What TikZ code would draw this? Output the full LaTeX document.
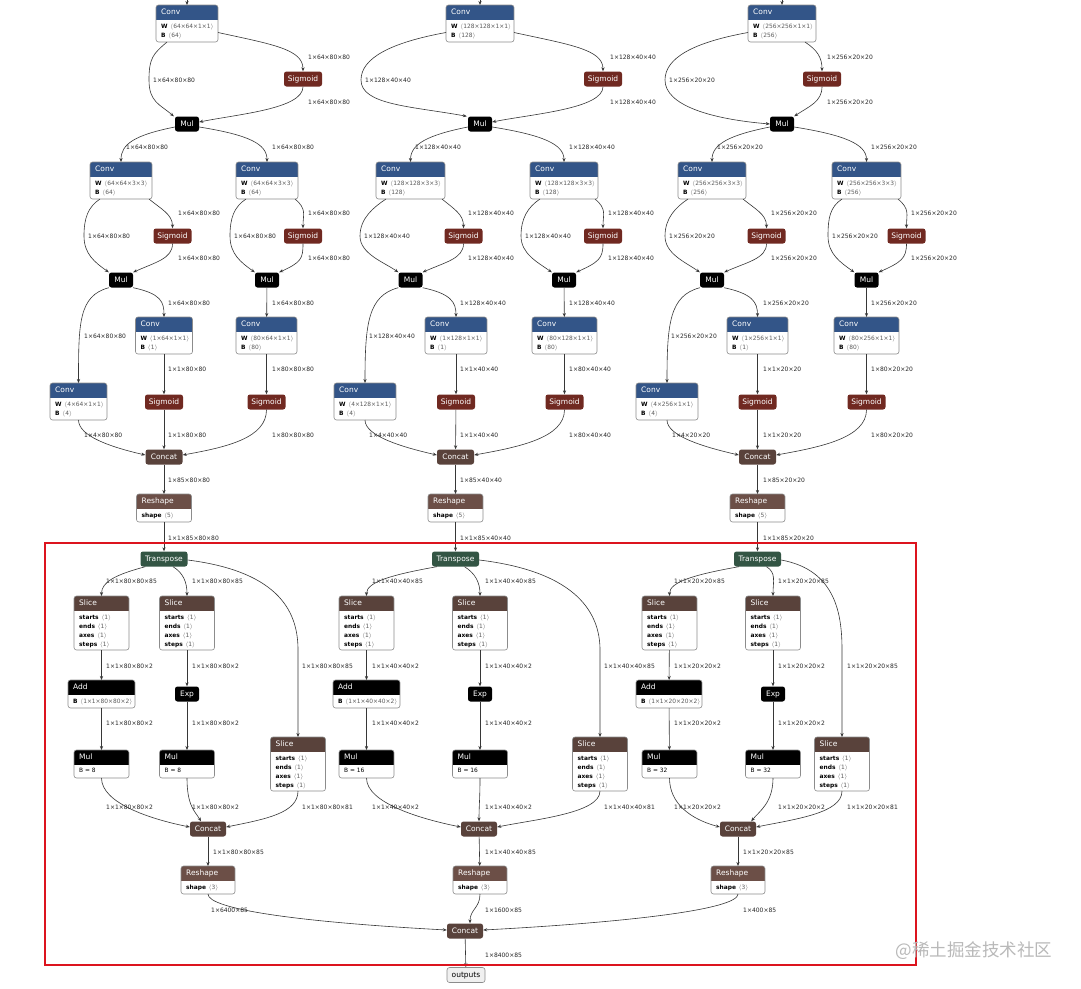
\documentclass[tikz,border=0pt]{standalone}
\usepackage{fontspec}
\usetikzlibrary{arrows.meta}
\newfontfamily\nf{DejaVu Sans}
\newfontfamily\cjkf{Noto Sans CJK SC}
\definecolor{layerc}{RGB}{51,85,136}
\definecolor{actc}{RGB}{112,41,33}
\definecolor{tensorc}{RGB}{89,66,59}
\definecolor{shapec}{RGB}{108,79,71}
\definecolor{transc}{RGB}{51,85,68}
\definecolor{edgec}{RGB}{55,55,55}
\definecolor{borderc}{RGB}{140,140,140}
\definecolor{valc}{RGB}{90,90,90}
\definecolor{redbox}{RGB}{220,20,30}
\newcommand\hdrfont{\nf\fontsize{7.5}{9}\selectfont}
\newcommand\labfont{\nf\fontsize{6}{7}\selectfont}
\newcommand\bodyfont{\nf\fontsize{5.9}{9}\selectfont}
\newcommand\kv[2]{\textbf{#1}\hspace{2.5pt}{\color{valc}$\langle$#2$\rangle$}}
\newcommand\slicebody{\kv{starts}{1}\\\kv{ends}{1}\\\kv{axes}{1}\\\kv{steps}{1}}
\tikzset{
  hdr/.style={font=\hdrfont, text=white, inner sep=0pt, anchor=west, text height=5.5pt, text depth=1.5pt},
  bodyt/.style={font=\bodyfont, inner sep=0pt, anchor=north west, align=left},
  simple/.style={rounded corners=2.5pt, minimum height=15pt, inner sep=0pt, font=\hdrfont, text=white, text height=5.5pt, text depth=1.5pt},
  sigm/.style={simple, fill=actc, minimum width=38pt},
  blk/.style={simple, fill=black, minimum width=24pt},
  catn/.style={simple, fill=tensorc, minimum width=37pt},
  trn/.style={simple, fill=transc, minimum width=47pt},
  outn/.style={simple, fill=gray!12, draw=borderc, text=black, minimum width=38pt, line width=0.6pt},
  lab/.style={font=\labfont, inner sep=0pt, anchor=west, text=black!85},
  edge/.style={draw=edgec, line width=0.6pt, -{Stealth[length=4pt,width=3.2pt]}},
}
\newcommand\boxnode[8]{%
  \node[inner sep=0pt, outer sep=0pt, minimum width=#4pt, minimum height=#5pt, anchor=north] (#1) at (#2,#3) {};
  \begin{scope}
    \clip[rounded corners=2.5pt] (#1.north west) rectangle (#1.south east);
    \fill[white] (#1.north west) rectangle (#1.south east);
    \fill[#6] (#1.north west) rectangle ([yshift=-15pt]#1.north east);
  \end{scope}
  \draw[draw=borderc, line width=0.6pt, rounded corners=2.5pt] (#1.north west) rectangle (#1.south east);
  \node[hdr] (#1-t) at ([xshift=5pt,yshift=-7.8pt]#1.north west) {#7};
  \node[bodyt] (#1-b) at ([xshift=5pt,yshift=-18.3pt]#1.north west) {#8};
}
\newcounter{labn}
\newcommand\elab[3]{\stepcounter{labn}\node[lab] (L\arabic{labn}) at (#1,#2) {#3};}
\newcommand\stdedges[1]{%
  \draw[edge] (#1-in) -- (#1-conv1);
  \draw[edge] ([yshift=-3pt]#1-mul1.west) .. controls +(-40,8) and +(0,-18) .. (#1-conv2a.north);
  \draw[edge] ([yshift=-3pt]#1-mul1.east) .. controls +(50,8) and +(0,-18) .. (#1-conv2b.north);
  \draw[edge] ([xshift=-3pt]#1-conv2a.south east) .. controls +(12,10) and +(0,-14) .. (#1-sig2a.north);
  \draw[edge] ([xshift=10pt]#1-conv2a.south west) .. controls +(-12,8) and +(0,-18) .. (#1-b2a) .. controls +(0,18) and +(-14,-10) .. (#1-mul2a.north west);
  \draw[edge] (#1-sig2a.south) .. controls +(0,15) and +(22,-10) .. (#1-mul2a.north east);
  \draw[edge] ([xshift=-3pt]#1-conv2b.south east) .. controls +(12,10) and +(0,-14) .. (#1-sig2b.north);
  \draw[edge] ([xshift=10pt]#1-conv2b.south west) .. controls +(-12,8) and +(0,-18) .. (#1-b2b) .. controls +(0,18) and +(-14,-10) .. (#1-mul2b.north west);
  \draw[edge] (#1-sig2b.south) .. controls +(0,15) and +(22,-10) .. (#1-mul2b.north east);
  \draw[edge] (#1-mul2a.south west) .. controls +(-30,8) and +(0,-60) .. (#1-conv4.north);
  \draw[edge] (#1-mul2a.south east) .. controls +(28,6) and +(0,-15) .. (#1-conv3a.north);
  \draw[edge] (#1-mul2b) -- (#1-conv3b);
  \draw[edge] (#1-conv3a) -- (#1-sig3a);
  \draw[edge] (#1-conv3b) -- (#1-sig3b);
  \draw[edge] (#1-conv4.south) .. controls +(0,16) and +(-35,-8) .. ([yshift=2pt]#1-cat1.west);
  \draw[edge] (#1-sig3a) -- (#1-cat1);
  \draw[edge] (#1-sig3b.south) .. controls +(0,28) and +(45,-8) .. ([yshift=2pt]#1-cat1.east);
  \draw[edge] (#1-cat1) -- (#1-resh1);
  \draw[edge] (#1-resh1) -- (#1-trans);
  \draw[edge] ([xshift=9pt]#1-trans.south) .. controls +(10,6) and +(0,-14) .. (#1-sliceb.north);
  \draw[edge] (#1-slicea) -- (#1-add);
  \draw[edge] (#1-sliceb) -- (#1-exp);
  \draw[edge] (#1-add) -- (#1-mula);
  \draw[edge] (#1-exp) -- (#1-mulb);
  \draw[edge] (#1-slicec.south) .. controls +(0,22) and +(40,-8) .. ([yshift=2pt]#1-cat2.east);
  \draw[edge] (#1-cat2) -- (#1-resh2);
}
\begin{document}
\begin{tikzpicture}[x=1pt, y=-1pt]
\useasboundingbox (0,0) rectangle (1081,988);
\fill[white] (0,0) rectangle (1081,988);

%% ---------------- Column A (80x80) ----------------
\coordinate (A-in) at (187,0);
\boxnode{A-conv1}{187}{5}{62}{37}{layerc}{Conv}{\kv{W}{64×64×1×1}\\\kv{B}{64}}
\node[sigm] (A-sig1) at (303,79) {Sigmoid};
\node[blk] (A-mul1) at (187,124) {Mul};
\boxnode{A-conv2a}{121}{162}{62}{37}{layerc}{Conv}{\kv{W}{64×64×3×3}\\\kv{B}{64}}
\boxnode{A-conv2b}{267}{162}{62}{37}{layerc}{Conv}{\kv{W}{64×64×3×3}\\\kv{B}{64}}
\node[sigm] (A-sig2a) at (172.5,236) {Sigmoid};
\node[sigm] (A-sig2b) at (303,236) {Sigmoid};
\node[blk] (A-mul2a) at (121,280) {Mul};
\node[blk] (A-mul2b) at (267,280) {Mul};
\boxnode{A-conv3a}{164}{317}{57}{37}{layerc}{Conv}{\kv{W}{1×64×1×1}\\\kv{B}{1}}
\boxnode{A-conv3b}{266.5}{317}{61}{37}{layerc}{Conv}{\kv{W}{80×64×1×1}\\\kv{B}{80}}
\boxnode{A-conv4}{78.5}{383}{57}{37}{layerc}{Conv}{\kv{W}{4×64×1×1}\\\kv{B}{4}}
\node[sigm] (A-sig3a) at (164,402) {Sigmoid};
\node[sigm] (A-sig3b) at (266.5,402) {Sigmoid};
\node[catn] (A-cat1) at (164,457) {Concat};
\boxnode{A-resh1}{164}{494}{55}{28}{shapec}{Reshape}{\kv{shape}{5}}
\node[trn] (A-trans) at (164,559) {Transpose};
\boxnode{A-slicea}{101.5}{596}{55}{54}{tensorc}{Slice}{\slicebody}
\boxnode{A-sliceb}{187}{596}{55}{54}{tensorc}{Slice}{\slicebody}
\boxnode{A-slicec}{298}{737}{55}{54}{tensorc}{Slice}{\slicebody}
\boxnode{A-add}{101.5}{680}{67}{28}{black}{Add}{\kv{B}{1×1×80×80×2}}
\node[blk] (A-exp) at (187,694) {Exp};
\boxnode{A-mula}{101.5}{750}{55}{28}{black}{Mul}{B = 8}
\boxnode{A-mulb}{187}{750}{55}{28}{black}{Mul}{B = 8}
\node[catn, minimum width=36pt] (A-cat2) at (208,829) {Concat};
\boxnode{A-resh2}{208}{866}{54}{28}{shapec}{Reshape}{\kv{shape}{3}}

%% ---------------- Column B (40x40) ----------------
\coordinate (B-in) at (480,0);
\boxnode{B-conv1}{480}{5}{68}{37}{layerc}{Conv}{\kv{W}{128×128×1×1}\\\kv{B}{128}}
\node[sigm] (B-sig1) at (603,79) {Sigmoid};
\node[blk] (B-mul1) at (480,124) {Mul};
\boxnode{B-conv2a}{410.5}{162}{69}{37}{layerc}{Conv}{\kv{W}{128×128×3×3}\\\kv{B}{128}}
\boxnode{B-conv2b}{564}{162}{68}{37}{layerc}{Conv}{\kv{W}{128×128×3×3}\\\kv{B}{128}}
\node[sigm] (B-sig2a) at (463.5,236) {Sigmoid};
\node[sigm] (B-sig2b) at (603,236) {Sigmoid};
\node[blk] (B-mul2a) at (410.5,280) {Mul};
\node[blk] (B-mul2b) at (564,280) {Mul};
\boxnode{B-conv3a}{456}{317}{62}{37}{layerc}{Conv}{\kv{W}{1×128×1×1}\\\kv{B}{1}}
\boxnode{B-conv3b}{564.5}{317}{65}{37}{layerc}{Conv}{\kv{W}{80×128×1×1}\\\kv{B}{80}}
\boxnode{B-conv4}{365}{383}{62}{37}{layerc}{Conv}{\kv{W}{4×128×1×1}\\\kv{B}{4}}
\node[sigm] (B-sig3a) at (456,402) {Sigmoid};
\node[sigm] (B-sig3b) at (564.5,402) {Sigmoid};
\node[catn] (B-cat1) at (455.5,457) {Concat};
\boxnode{B-resh1}{455.5}{494}{55}{28}{shapec}{Reshape}{\kv{shape}{5}}
\node[trn] (B-trans) at (455.5,559) {Transpose};
\boxnode{B-slicea}{366.5}{596}{55}{54}{tensorc}{Slice}{\slicebody}
\boxnode{B-sliceb}{480}{596}{55}{54}{tensorc}{Slice}{\slicebody}
\boxnode{B-slicec}{600}{737}{55}{54}{tensorc}{Slice}{\slicebody}
\boxnode{B-add}{366.5}{680}{67}{28}{black}{Add}{\kv{B}{1×1×40×40×2}}
\node[blk] (B-exp) at (480,694) {Exp};
\boxnode{B-mula}{366.5}{750}{55}{28}{black}{Mul}{B = 16}
\boxnode{B-mulb}{480}{750}{55}{28}{black}{Mul}{B = 16}
\node[catn, minimum width=36pt] (B-cat2) at (479,829) {Concat};
\boxnode{B-resh2}{480}{866}{54}{28}{shapec}{Reshape}{\kv{shape}{3}}

%% ---------------- Column C (20x20) ----------------
\coordinate (C-in) at (782,0);
\boxnode{C-conv1}{782}{5}{68}{37}{layerc}{Conv}{\kv{W}{256×256×1×1}\\\kv{B}{256}}
\node[sigm] (C-sig1) at (822,79) {Sigmoid};
\node[blk] (C-mul1) at (782,124) {Mul};
\boxnode{C-conv2a}{712}{162}{68}{37}{layerc}{Conv}{\kv{W}{256×256×3×3}\\\kv{B}{256}}
\boxnode{C-conv2b}{866.5}{162}{69}{37}{layerc}{Conv}{\kv{W}{256×256×3×3}\\\kv{B}{256}}
\node[sigm] (C-sig2a) at (766.5,236) {Sigmoid};
\node[sigm] (C-sig2b) at (906.5,236) {Sigmoid};
\node[blk] (C-mul2a) at (712,280) {Mul};
\node[blk] (C-mul2b) at (866.5,280) {Mul};
\boxnode{C-conv3a}{757.5}{317}{61}{37}{layerc}{Conv}{\kv{W}{1×256×1×1}\\\kv{B}{1}}
\boxnode{C-conv3b}{866.5}{317}{65}{37}{layerc}{Conv}{\kv{W}{80×256×1×1}\\\kv{B}{80}}
\boxnode{C-conv4}{667}{383}{62}{37}{layerc}{Conv}{\kv{W}{4×256×1×1}\\\kv{B}{4}}
\node[sigm] (C-sig3a) at (757.5,402) {Sigmoid};
\node[sigm] (C-sig3b) at (866.5,402) {Sigmoid};
\node[catn] (C-cat1) at (757.5,457) {Concat};
\boxnode{C-resh1}{757.5}{494}{55}{28}{shapec}{Reshape}{\kv{shape}{5}}
\node[trn] (C-trans) at (757.5,559) {Transpose};
\boxnode{C-slicea}{669.5}{596}{55}{54}{tensorc}{Slice}{\slicebody}
\boxnode{C-sliceb}{773}{596}{55}{54}{tensorc}{Slice}{\slicebody}
\boxnode{C-slicec}{842}{737}{55}{54}{tensorc}{Slice}{\slicebody}
\boxnode{C-add}{669}{680}{66}{28}{black}{Add}{\kv{B}{1×1×20×20×2}}
\node[blk] (C-exp) at (773,694) {Exp};
\boxnode{C-mula}{669.5}{750}{55}{28}{black}{Mul}{B = 32}
\boxnode{C-mulb}{773}{750}{55}{28}{black}{Mul}{B = 32}
\node[catn, minimum width=36pt] (C-cat2) at (738,829) {Concat};
\boxnode{C-resh2}{738}{866}{54}{28}{shapec}{Reshape}{\kv{shape}{3}}

%% ---------------- Final ----------------
\node[catn, minimum width=36pt] (F-cat) at (465,931) {Concat};
\node[outn] (F-out) at (466,975) {outputs};

%% bend coordinates
\coordinate (A-b1) at (149,80);   \coordinate (A-b2a) at (84,236);  \coordinate (A-b2b) at (230,236); \coordinate (A-k1) at (298,650);
\coordinate (B-b1) at (361,80);   \coordinate (B-b2a) at (360,236); \coordinate (B-b2b) at (521,236); \coordinate (B-k1) at (600,650);
\coordinate (C-b1) at (665,80);   \coordinate (C-b2a) at (665,236); \coordinate (C-b2b) at (828,236); \coordinate (C-k1) at (842,650);

%% ---------------- Edges ----------------
\stdedges{A}
\stdedges{B}
\stdedges{C}
% column A specific
\draw[edge] ([yshift=-9pt]A-conv1.east) .. controls +(55,12) and +(0,-22) .. (A-sig1.north);
\draw[edge] ([xshift=-20pt]A-conv1.south) .. controls +(-14,12) and +(0,-22) .. (A-b1) .. controls +(0,22) and +(-14,-12) .. ([xshift=-1pt]A-mul1.north west);
\draw[edge] (A-sig1.south) .. controls +(0,22) and +(40,-8) .. ([yshift=2pt]A-mul1.east);
\draw[edge] ([xshift=5pt]A-trans.south west) .. controls +(-30,8) and +(0,-14) .. (A-slicea.north);
\draw[edge] ([yshift=-1pt]A-trans.east) .. controls +(95,12) and +(0,-35) .. (A-k1) -- (A-slicec.north);
\draw[edge] (A-mula.south) .. controls +(0,25) and +(-40,-8) .. ([yshift=2pt]A-cat2.west);
\draw[edge] (A-mulb.south) .. controls +(0,28) and +(-6,-10) .. ([xshift=-7pt]A-cat2.north);
\draw[edge] (A-resh2.south) .. controls +(0,15) and +(-150,-8) .. ([yshift=1pt]F-cat.west);
% column B specific
\draw[edge] ([yshift=-9pt]B-conv1.east) .. controls +(55,12) and +(0,-22) .. (B-sig1.north);
\draw[edge] ([yshift=-9pt]B-conv1.west) .. controls +(-55,10) and +(0,-22) .. (B-b1) .. controls +(0,25) and +(-55,-10) .. ([xshift=-1pt]B-mul1.north west);
\draw[edge] (B-sig1.south) .. controls +(0,22) and +(40,-8) .. ([yshift=2pt]B-mul1.east);
\draw[edge] ([xshift=5pt]B-trans.south west) .. controls +(-45,8) and +(0,-14) .. (B-slicea.north);
\draw[edge] ([yshift=-1pt]B-trans.east) .. controls +(100,12) and +(0,-35) .. (B-k1) -- (B-slicec.north);
\draw[edge] (B-mula.south) .. controls +(0,25) and +(-40,-8) .. ([yshift=2pt]B-cat2.west);
\draw[edge] (B-mulb.south) .. controls +(0,20) and +(0,-15) .. (B-cat2.north);
\draw[edge] (B-resh2.south) .. controls +(0,14) and +(0,-14) .. ([xshift=5pt]F-cat.north);
% column C specific
\draw[edge] ([xshift=23pt]C-conv1.south) .. controls +(12,8) and +(0,-14) .. (C-sig1.north);
\draw[edge] ([yshift=-9pt]C-conv1.west) .. controls +(-55,10) and +(0,-22) .. (C-b1) .. controls +(0,25) and +(-60,-5) .. (C-mul1.west);
\draw[edge] (C-sig1.south) .. controls +(0,15) and +(15,-10) .. (C-mul1.north east);
\draw[edge] ([xshift=5pt]C-trans.south west) .. controls +(-45,8) and +(0,-14) .. (C-slicea.north);
\draw[edge] ([yshift=-1pt]C-trans.east) .. controls +(55,10) and +(0,-35) .. (C-k1) -- (C-slicec.north);
\draw[edge] (C-mula.south) .. controls +(0,25) and +(-30,-8) .. ([yshift=2pt]C-cat2.west);
\draw[edge] (C-mulb.south) .. controls +(0,25) and +(8,-10) .. ([xshift=-5pt]C-cat2.north east);
\draw[edge] (C-resh2.south) .. controls +(0,15) and +(150,-8) .. ([yshift=1pt]F-cat.east);
% final
\draw[edge] (F-cat) -- (F-out);

%% ---------------- Edge labels ----------------
% column A
\elab{308}{57}{1×64×80×80}\elab{153}{80}{1×64×80×80}\elab{308}{102}{1×64×80×80}
\elab{126}{147}{1×64×80×80}\elab{272}{147}{1×64×80×80}
\elab{178}{213}{1×64×80×80}\elab{88}{236}{1×64×80×80}\elab{178}{258}{1×64×80×80}
\elab{308}{213}{1×64×80×80}\elab{234}{236}{1×64×80×80}\elab{308}{258}{1×64×80×80}
\elab{168}{303}{1×64×80×80}\elab{84}{336}{1×64×80×80}\elab{272}{303}{1×64×80×80}
\elab{168}{369}{1×1×80×80}\elab{272}{369}{1×80×80×80}
\elab{84}{435}{1×4×80×80}\elab{168}{435}{1×1×80×80}\elab{272}{435}{1×80×80×80}
\elab{168}{480}{1×85×80×80}\elab{168}{538}{1×1×85×80×80}
\elab{106}{581}{1×1×80×80×85}\elab{192}{581}{1×1×80×80×85}\elab{302}{666}{1×1×80×80×85}
\elab{106}{666}{1×1×80×80×2}\elab{192}{666}{1×1×80×80×2}
\elab{106}{723}{1×1×80×80×2}\elab{192}{723}{1×1×80×80×2}
\elab{106}{807}{1×1×80×80×2}\elab{192}{807}{1×1×80×80×2}\elab{302}{807}{1×1×80×80×81}
\elab{213}{852}{1×1×80×80×85}\elab{211}{910}{1×6400×85}
% column B
\elab{610}{57}{1×128×40×40}\elab{365}{80}{1×128×40×40}\elab{610}{102}{1×128×40×40}
\elab{415}{147}{1×128×40×40}\elab{569}{147}{1×128×40×40}
\elab{468}{213}{1×128×40×40}\elab{364}{236}{1×128×40×40}\elab{468}{258}{1×128×40×40}
\elab{608}{213}{1×128×40×40}\elab{525}{236}{1×128×40×40}\elab{608}{258}{1×128×40×40}
\elab{460}{303}{1×128×40×40}\elab{369}{336}{1×128×40×40}\elab{569}{303}{1×128×40×40}
\elab{460}{369}{1×1×40×40}\elab{569}{369}{1×80×40×40}
\elab{369}{435}{1×4×40×40}\elab{460}{435}{1×1×40×40}\elab{569}{435}{1×80×40×40}
\elab{460}{480}{1×85×40×40}\elab{460}{538}{1×1×85×40×40}
\elab{372}{581}{1×1×40×40×85}\elab{485}{581}{1×1×40×40×85}\elab{604}{666}{1×1×40×40×85}
\elab{372}{666}{1×1×40×40×2}\elab{485}{666}{1×1×40×40×2}
\elab{372}{723}{1×1×40×40×2}\elab{485}{723}{1×1×40×40×2}
\elab{372}{807}{1×1×40×40×2}\elab{485}{807}{1×1×40×40×2}\elab{604}{807}{1×1×40×40×81}
\elab{485}{852}{1×1×40×40×85}\elab{485}{910}{1×1600×85}
% column C
\elab{827}{57}{1×256×20×20}\elab{669}{80}{1×256×20×20}\elab{827}{102}{1×256×20×20}
\elab{717}{147}{1×256×20×20}\elab{871}{147}{1×256×20×20}
\elab{771}{213}{1×256×20×20}\elab{669}{236}{1×256×20×20}\elab{771}{258}{1×256×20×20}
\elab{911}{213}{1×256×20×20}\elab{832}{236}{1×256×20×20}\elab{911}{258}{1×256×20×20}
\elab{763}{303}{1×256×20×20}\elab{671}{336}{1×256×20×20}\elab{871}{303}{1×256×20×20}
\elab{763}{369}{1×1×20×20}\elab{871}{369}{1×80×20×20}
\elab{672}{435}{1×4×20×20}\elab{763}{435}{1×1×20×20}\elab{871}{435}{1×80×20×20}
\elab{763}{480}{1×85×20×20}\elab{763}{538}{1×1×85×20×20}
\elab{674}{581}{1×1×20×20×85}\elab{778}{581}{1×1×20×20×85}\elab{847}{666}{1×1×20×20×85}
\elab{674}{666}{1×1×20×20×2}\elab{778}{666}{1×1×20×20×2}
\elab{674}{723}{1×1×20×20×2}\elab{778}{723}{1×1×20×20×2}
\elab{674}{807}{1×1×20×20×2}\elab{778}{807}{1×1×20×20×2}\elab{847}{807}{1×1×20×20×81}
\elab{743}{852}{1×1×20×20×85}\elab{743}{910}{1×400×85}
% final
\elab{485}{955}{1×8400×85}

%% red frame and watermark
\draw[redbox, line width=1.8pt] (45,543) rectangle (916,965);
\node[font=\cjkf\fontsize{17.5}{18}\selectfont, text=gray!55, inner sep=0pt] (wm) at (974,951) {@稀土掘金技术社区};
\end{tikzpicture}
\end{document}
